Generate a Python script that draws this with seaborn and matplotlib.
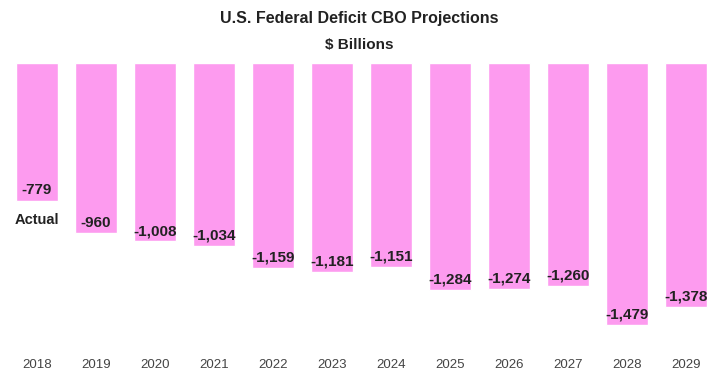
import matplotlib
matplotlib.use("Agg")
import matplotlib.pyplot as plt
import seaborn as sns
import pandas as pd

# Data (CBO deficit projections, $ billions)
years = ["2018", "2019", "2020", "2021", "2022", "2023", "2024", "2025", "2026", "2027", "2028", "2029"]
deficit = [-779, -960, -1008, -1034, -1159, -1181, -1151, -1284, -1274, -1260, -1479, -1378]

df = pd.DataFrame({"year": years, "deficit": deficit})

sns.set_theme(style="white")
plt.rcParams["font.family"] = ["Liberation Sans", "DejaVu Sans"]

fig = plt.figure(figsize=(7.18, 3.76), dpi=100)
ax = fig.add_axes([0.0104, 0.0957, 0.986, 0.7367])

sns.barplot(data=df, x="year", y="deficit", color="#fd9bef", saturation=1,
            width=0.71, ax=ax)

# value labels just inside the bottom of each bar
for i, v in enumerate(deficit):
    ax.annotate(f"{v:,}", xy=(i, v), xytext=(0, 7.5), textcoords="offset points",
                ha="center", va="center", fontsize=11, fontweight="bold", color="#222222")

# "Actual" marker under the first bar
ax.annotate("Actual", xy=(0, deficit[0]), xytext=(0, -14), textcoords="offset points",
            ha="center", va="center", fontsize=10.5, fontweight="bold", color="#222222")

ax.set_ylim(-1565, 0)
ax.set_xlim(-0.5, len(years) - 0.5)
ax.set_xlabel("")
ax.set_ylabel("")
ax.set_yticks([])
ax.tick_params(axis="x", length=0, pad=14, labelsize=9.5, labelcolor="#444444")
sns.despine(ax=ax, left=True, bottom=True)

fig.text(0.5, 0.952, "U.S. Federal Deficit CBO Projections", ha="center", va="center",
         fontsize=11.5, fontweight="bold", color="#222222")
fig.text(0.5, 0.88, "$ Billions", ha="center", va="center",
         fontsize=11, fontweight="bold", color="#222222")

fig.savefig("out.png", dpi=100)
